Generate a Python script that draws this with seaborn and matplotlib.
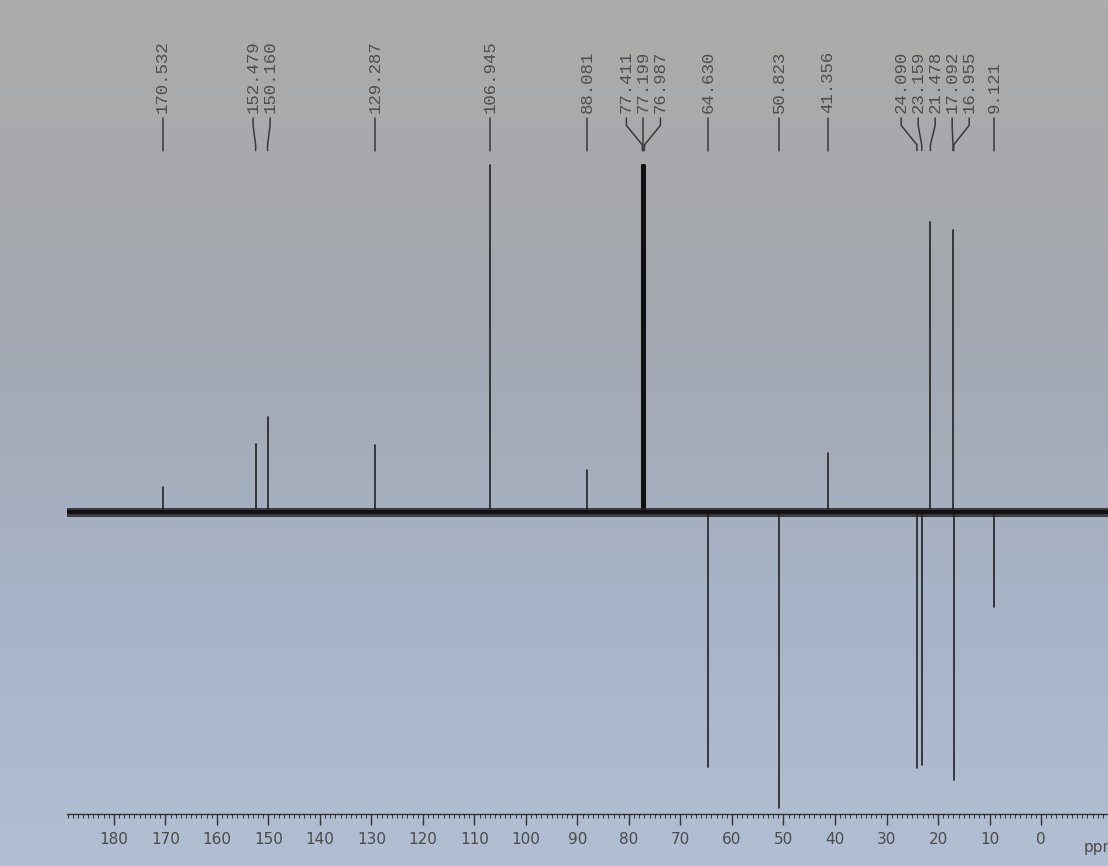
import numpy as np
import pandas as pd
import matplotlib
matplotlib.use("Agg")
import matplotlib.pyplot as plt
import matplotlib.transforms as mtransforms
from matplotlib.colors import LinearSegmentedColormap
import seaborn as sns

# 13C APT spectrum (CDCl3) - peak positions (ppm) and signed intensities
peak_ppm = [170.532, 152.479, 150.160, 129.287, 106.945, 88.081,
            77.411, 77.199, 76.987, 64.630, 50.823, 41.356,
            24.090, 23.159, 21.478, 17.092, 16.955, 9.121]
peak_int = [7.2, 19.6, 27.4, 19.3, 100.0, 12.1,
            100.0, 100.0, 100.0, -73.5, -85.3, 17.0,
            -73.8, -72.9, 83.6, 81.3, -77.2, -27.4]
peak_labels = ["170.532", "152.479", "150.160", "129.287", "106.945", "88.081",
               "77.411", "77.199", "76.987", "64.630", "50.823", "41.356",
               "24.090", "23.159", "21.478", "17.092", "16.955", "9.121"]
tick_values = list(range(180, -1, -10))

XMIN, XMAX = 189.1, -13.0
LABEL_GAP = 3.3  # ppm between neighbouring labels

sns.set_theme(style="white")
plt.rcParams["font.family"] = ["DejaVu Sans"]

fig = plt.figure(figsize=(11.08, 8.66), dpi=100)

# photo-like background (grey on top, bluish at bottom)
bg = fig.add_axes([0, 0, 1, 1], zorder=0)
cmap = LinearSegmentedColormap.from_list(
    "paper", [(0.0, "#adacaa"), (0.35, "#a3a7af"), (0.7, "#a7b3c7"), (1.0, "#b2bed1")])
grad = np.linspace(0, 1, 256).reshape(-1, 1)
bg.imshow(grad, aspect="auto", cmap=cmap, extent=[0, 1, 1, 0])
bg.set_axis_off()

ax = fig.add_axes([67 / 1108, 52 / 866, 1 - 67 / 1108, 814 / 866], zorder=1)
ax.patch.set_alpha(0)

# stick spectrum built from the peak table
df = pd.DataFrame({"ppm": peak_ppm, "intensity": peak_int})
rows = []
for i, r in df.iterrows():
    rows += [(i, r.ppm, 0.0), (i, r.ppm, r.intensity)]
sticks = pd.DataFrame(rows, columns=["peak", "ppm", "y"])
sns.lineplot(data=sticks, x="ppm", y="y", units="peak", estimator=None, sort=False,
             color="#222222", linewidth=1.2, ax=ax, legend=False)

# solvent triplet drawn heavier
solvent = sticks[sticks.peak.isin([6, 7, 8])]
sns.lineplot(data=solvent, x="ppm", y="y", units="peak", estimator=None, sort=False,
             color="#111111", linewidth=2.2, ax=ax, legend=False)

# baseline (noisy band in the print)
base = pd.DataFrame({"ppm": [XMIN + 1.0, -20.0], "y": [0.0, 0.0]})
sns.lineplot(data=base, x="ppm", y="y", color="#222222", linewidth=6.5, alpha=0.8,
             ax=ax, legend=False, sort=False)
sns.lineplot(data=base, x="ppm", y="y", color="#111111", linewidth=3.0,
             ax=ax, legend=False, sort=False)

ax.set_xlim(XMIN, XMAX)
ax.set_ylim(-87.0, 147.6)

# spread the peak labels so that they do not overlap
pos = list(peak_ppm)
for _ in range(100):
    groups, cur = [], [0]
    for i in range(1, len(pos)):
        if pos[cur[-1]] - pos[i] < LABEL_GAP + 1e-6:
            cur.append(i)
        else:
            groups.append(cur)
            cur = [i]
    groups.append(cur)
    changed = False
    for g in groups:
        if len(g) > 1:
            centre = np.mean([peak_ppm[k] for k in g])
            half = (len(g) - 1) / 2
            for j, k in enumerate(g):
                new = centre + (half - j) * LABEL_GAP
                if abs(new - pos[k]) > 1e-6:
                    changed = True
                pos[k] = new
    if not changed:
        break

trans = mtransforms.blended_transform_factory(ax.transData, ax.transAxes)
y_txt, y_top, y_bend1, y_bend2, y_bot = 0.861, 0.855, 0.846, 0.822, 0.815
for p, lp, lab in zip(peak_ppm, pos, peak_labels):
    ax.plot([lp, lp, p, p], [y_top, y_bend1, y_bend2, y_bot], transform=trans,
            color="#3a3a3a", linewidth=1.1, clip_on=False)
    ax.text(lp, y_txt, lab, transform=trans, rotation=90, ha="center", va="bottom",
            fontsize=12.5, family=["Liberation Mono", "DejaVu Sans Mono"],
            color="#4e4e4e")

# bottom ppm scale
sns.despine(ax=ax, left=True, top=True, right=True, bottom=False)
ax.spines["bottom"].set_color("#333333")
ax.spines["bottom"].set_linewidth(1.0)
ax.set_yticks([])
ax.set_xticks(tick_values)
ax.set_xticklabels([str(t) for t in tick_values])
ax.set_xticks(np.arange(-13, 190, 1), minor=True)
ax.tick_params(axis="x", which="major", direction="out", length=8, width=1.0,
               color="#333333", labelsize=11, labelcolor="#4a4a4a", pad=5, bottom=True)
ax.tick_params(axis="x", which="minor", direction="out", length=3, width=0.7,
               color="#333333", bottom=True)
ax.set_xlabel("")
ax.set_ylabel("")
ax.text(-8.3, -0.032, "ppm", transform=trans, ha="left", va="top",
        fontsize=11, color="#4a4a4a", clip_on=False)

fig.savefig("out.png", dpi=100)
